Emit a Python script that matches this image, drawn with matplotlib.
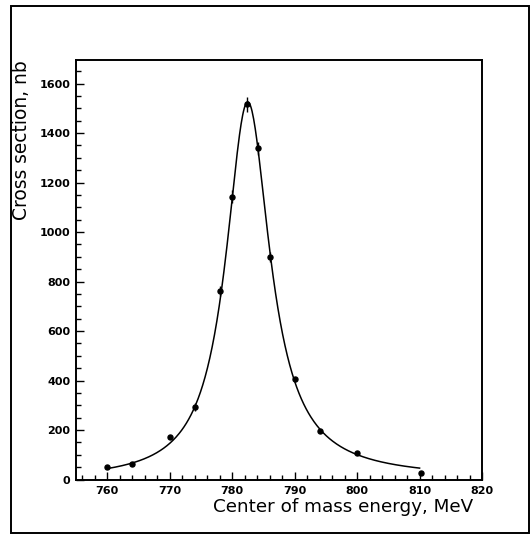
import numpy as np
import matplotlib
matplotlib.use("Agg")
import matplotlib.pyplot as plt
from matplotlib.ticker import MultipleLocator
from matplotlib.patches import Rectangle

# measured points: c.m. energy (MeV), cross section (nb), error (nb)
energy = [760.0, 764.0, 770.0, 774.1, 778.1, 780.0, 782.3, 784.2, 786.0, 790.0, 794.1, 800.0, 810.3]
xsec = [49, 61, 173, 292, 762, 1143, 1517, 1338, 900, 405, 196, 108, 27]
xsec_err = [6, 6, 8, 17, 20, 25, 30, 25, 20, 10, 8, 6, 5]

# resonance fit parameters
fit_mass = 782.4      # MeV
fit_width = 8.6       # MeV
fit_peak = 1525.0     # nb
fit_power = 8.0       # energy dependence of phase space
fit_range = (760.0, 810.0)

x_ticks = [760, 770, 780, 790, 800, 810, 820]
y_ticks = [0, 200, 400, 600, 800, 1000, 1200, 1400, 1600]


def breit_wigner(e):
    mg = fit_mass * fit_width
    bw = mg**2 / ((e**2 - fit_mass**2)**2 + mg**2)
    return fit_peak * bw * (e / fit_mass)**fit_power


plt.rcParams['font.family'] = ['DejaVu Sans']

fig = plt.figure(figsize=(5.32, 5.36), dpi=100)
ax = fig.add_axes([0.1429, 0.1054, 0.7632, 0.7826])

e_fit = np.linspace(fit_range[0], fit_range[1], 400)
ax.plot(e_fit, breit_wigner(e_fit), color='black', lw=1.1)
ax.errorbar(energy, xsec, yerr=xsec_err, fmt='o', color='black',
            ms=3.6, elinewidth=1.0, capsize=0)

ax.set_xlim(755, 820)
ax.set_ylim(0, 1695)
ax.set_xticks(x_ticks)
ax.set_yticks(y_ticks)
ax.xaxis.set_minor_locator(MultipleLocator(2))
ax.yaxis.set_minor_locator(MultipleLocator(50))
ax.tick_params(which='both', direction='in', top=False, right=False,
               labelsize=8, width=1.0)
ax.tick_params(which='major', length=6)
ax.tick_params(which='minor', length=3.5)
ax.tick_params(axis='x', pad=4.5)
ax.tick_params(axis='y', pad=4)
for lab in ax.get_xticklabels() + ax.get_yticklabels():
    lab.set_fontweight('bold')
for s in ax.spines.values():
    s.set_linewidth(1.4)

ax.set_xlabel('Center of mass energy, MeV', fontsize=13.2, ha='right')
ax.xaxis.set_label_coords(0.978, -0.044)
ax.set_ylabel('Cross section, nb', fontsize=13.4, ha='right')
ax.yaxis.set_label_coords(-0.11, 1.0)

# page frame around the figure
fig.patches.append(Rectangle((11 / 532, 3 / 536), 518 / 532, 527 / 536,
                             transform=fig.transFigure, fill=False,
                             edgecolor='black', lw=1.4))

fig.savefig('out.png', dpi=100)
